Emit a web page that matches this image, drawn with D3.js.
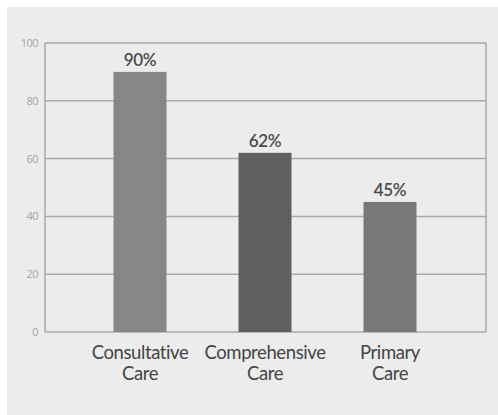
<!DOCTYPE html>
<html>
<head>
<meta charset="utf-8">
<script src="https://cdn.jsdelivr.net/npm/d3@7"></script>
<style>
  html, body { margin: 0; padding: 0; background: #ffffff; }
  svg { display: block; }
</style>
</head>
<body>
<svg id="chart" width="498" height="415"></svg>
<script>
// Share of practices by care model
const categories = [["Consultative", "Care"], ["Comprehensive", "Care"], ["Primary", "Care"]];
const values = [90, 62, 45];
const barColors = ["#878787", "#5f5f5f", "#787878"];
const yTicks = [0, 20, 40, 60, 80, 100];

const svg = d3.select("#chart");
const W = 498, H = 415;

// panel background
svg.append("rect").attr("x", 7).attr("y", 7).attr("width", W - 7).attr("height", H - 7)
  .attr("fill", "#ececec");

const plot = { left: 45, right: 486, top: 43, bottom: 332 };

const y = d3.scaleLinear().domain([0, 100]).range([plot.bottom, plot.top]);
const x = d3.scaleBand()
  .domain(categories.map((d, i) => i))
  .range([77.5, 452.5])
  .paddingInner(0.576)
  .paddingOuter(0.288);

// horizontal grid + frame
const grid = svg.append("g");
grid.selectAll("line.h").data(yTicks).join("line")
  .attr("x1", plot.left).attr("x2", plot.right)
  .attr("y1", d => y(d)).attr("y2", d => y(d))
  .attr("stroke", "#a9a9a9").attr("stroke-width", 1.5);
grid.append("line")
  .attr("x1", plot.left).attr("x2", plot.left)
  .attr("y1", plot.top).attr("y2", plot.bottom)
  .attr("stroke", "#a9a9a9").attr("stroke-width", 1.5);
grid.append("line")
  .attr("x1", plot.right).attr("x2", plot.right)
  .attr("y1", plot.top).attr("y2", plot.bottom)
  .attr("stroke", "#a9a9a9").attr("stroke-width", 1.5);

// y tick labels
const yAxis = d3.axisLeft(y).tickValues(yTicks).tickSize(0).tickPadding(7);
const yg = svg.append("g").attr("transform", `translate(${plot.left},0)`).call(yAxis);
yg.select(".domain").remove();
yg.selectAll("text")
  .attr("fill", "#a3a3a3")
  .style("font-family", "'Open Sans', sans-serif")
  .style("font-size", "11px")
  .style("letter-spacing", "-0.5px");

// bars
svg.append("g").selectAll("rect").data(values).join("rect")
  .attr("x", (d, i) => x(i))
  .attr("width", x.bandwidth())
  .attr("y", d => y(d))
  .attr("height", d => plot.bottom - y(d))
  .attr("fill", (d, i) => barColors[i]);

// value labels
svg.append("g").selectAll("text").data(values).join("text")
  .attr("x", (d, i) => x(i) + x.bandwidth() / 2)
  .attr("y", d => y(d) - 6)
  .attr("text-anchor", "middle")
  .attr("fill", "#4a4a4a")
  .style("font-family", "Lato, sans-serif")
  .style("font-size", "17px")
  .style("font-weight", "600")
  .style("letter-spacing", "-0.3px")
  .text(d => d + "%");

// category labels (two lines each)
const cat = svg.append("g").selectAll("text").data(categories).join("text")
  .attr("x", (d, i) => x(i) + x.bandwidth() / 2)
  .attr("y", 359)
  .attr("text-anchor", "middle")
  .attr("fill", "#444444")
  .style("font-family", "Lato, sans-serif")
  .style("font-size", "18.5px")
  .style("letter-spacing", "-0.4px");
cat.selectAll("tspan").data(d => d).join("tspan")
  .attr("x", function () { return d3.select(this.parentNode).attr("x"); })
  .attr("dy", (d, i) => i === 0 ? 0 : 21)
  .text(d => d);
</script>
</body>
</html>
